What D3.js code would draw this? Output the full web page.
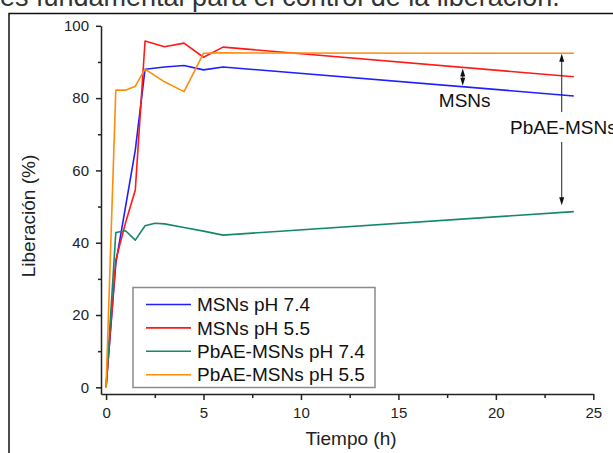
<!DOCTYPE html>
<html>
<head>
<meta charset="utf-8">
<script src="https://cdn.jsdelivr.net/npm/d3@7"></script>
<style>
  body { margin: 0; background: #fff; }
  svg { display: block; font-family: "Liberation Sans", Arial, sans-serif; }
</style>
</head>
<body>
<div id="chartDiv"></div>
<script>
// data
const timeMSN = [0, 0.5, 1, 1.5, 2, 3, 4, 5, 6, 24];
const msn74 = [0, 34.3, 50, 65.6, 88.0, 88.6, 89.0, 87.8, 88.6, 80.6];
const msn55 = [0, 35.2, 45.5, 54.6, 95.8, 94.2, 95.2, 91.3, 94.1, 85.9];
const timePbAE74 = [0, 0.5, 1, 1.5, 2, 2.5, 3, 4, 5, 6, 24];
const pbae74 = [0, 42.8, 43.3, 40.7, 44.7, 45.4, 45.2, 44.2, 43.2, 42.1, 48.6];
const timePbAE55 = [0, 0.5, 1, 1.5, 2, 3, 4, 5, 6, 24];
const pbae55 = [0, 82.2, 82.2, 83.3, 88.0, 84.5, 81.8, 92.4, 92.5, 92.4];

const seriesNames = ["MSNs pH 7.4", "MSNs pH 5.5", "PbAE-MSNs pH 7.4", "PbAE-MSNs pH 5.5"];
const seriesColors = ["#1f1fff", "#ff1a1a", "#15886c", "#ff8c0a"];
const xTicks = [0, 2.5, 5, 7.5, 10, 12.5, 15, 17.5, 20, 22.5, 25];
const yTicks = [0, 10, 20, 30, 40, 50, 60, 70, 80, 90, 100];

const W = 613, H = 453;
const svg = d3.select('#chartDiv')
	.append('svg')
	.attr('width', W)
	.attr('height', H);

// text above the figure (cut off by the crop)
svg.append('text')
	.attr('x', 0).attr('y', 6)
	.attr('font-size', 27)
	.attr('fill', '#333')
	.text('es fundamental para el control de la liberación.');

// page frame
svg.append('path')
	.attr('d', `M9,${H} V13.5 H${W}`)
	.attr('fill', 'none')
	.attr('stroke', '#111')
	.attr('stroke-width', 1.5);

//scales
const x = d3.scaleLinear().domain([-0.26, 25]).range([101, 593.3]);
const y = d3.scaleLinear().domain([-1.85, 100]).range([394, 25.8]);

const xAxis = d3.axisBottom(x).tickValues(xTicks).tickSize(6).tickSizeOuter(0).tickPadding(7)
	.tickFormat(d => d % 5 === 0 ? d : '');
const yAxis = d3.axisLeft(y).tickValues(yTicks).tickSize(5).tickSizeOuter(0).tickPadding(7)
	.tickFormat(d => d % 20 === 0 ? d : '');

const xAxisGroup = svg.append('g').attr('transform', 'translate(0,394)').call(xAxis);
const yAxisGroup = svg.append('g').attr('transform', 'translate(101,0)').call(yAxis);

[xAxisGroup, yAxisGroup].forEach(g => {
	g.select('.domain').attr('stroke', '#222').attr('stroke-width', 1.5);
	g.selectAll('.tick line').attr('stroke', '#222').attr('stroke-width', 1.5);
	g.selectAll('text').attr('font-size', 15).attr('fill', '#222')
		.attr('font-family', '"Liberation Sans", Arial, sans-serif');
});
xAxisGroup.selectAll('.tick line').filter(d => d % 5 !== 0).attr('y2', 4);
yAxisGroup.selectAll('.tick line').filter(d => d % 20 !== 0).attr('x2', -3);

// axis titles
svg.append('text')
	.attr('x', 351).attr('y', 445)
	.attr('text-anchor', 'middle')
	.attr('font-size', 19).attr('fill', '#222')
	.text('Tiempo (h)');
svg.append('text')
	.attr('transform', 'translate(35,216) rotate(-90)')
	.attr('text-anchor', 'middle')
	.attr('font-size', 19).attr('fill', '#222')
	.text('Liberación (%)');

// lines
const series = [
	{t: timeMSN, v: msn74},
	{t: timeMSN, v: msn55},
	{t: timePbAE74, v: pbae74},
	{t: timePbAE55, v: pbae55}
];
const line = d3.line().x(d => x(d[0])).y(d => y(d[1]));
series.forEach((s, i) => {
	svg.append('path')
		.datum(s.t.map((t, j) => [t, s.v[j]]))
		.attr('d', line)
		.attr('fill', 'none')
		.attr('stroke', seriesColors[i])
		.attr('stroke-width', 1.6)
		.attr('stroke-linejoin', 'round');
});

// annotation arrows
function valueAt(s, t) {
	const i = d3.bisectRight(s.t, t);
	const t0 = s.t[i - 1], t1 = s.t[i];
	return s.v[i - 1] + (s.v[i] - s.v[i - 1]) * (t - t0) / (t1 - t0);
}
function arrowHead(px, py, dir) {
	svg.append('path')
		.attr('d', `M${px},${py} L${px - 2.5},${py - dir * 8} L${px + 2.5},${py - dir * 8} Z`)
		.attr('fill', '#111');
}
function vline(px, y1, y2) {
	svg.append('line')
		.attr('x1', px).attr('x2', px).attr('y1', y1).attr('y2', y2)
		.attr('stroke', '#222').attr('stroke-width', 1);
}

const tA = 18.3;
const ax = x(tA), ayTop = y(valueAt(series[1], tA)) + 1, ayBot = y(valueAt(series[0], tA)) - 1;
vline(ax, ayTop + 4, ayBot - 4);
arrowHead(ax, ayTop, -1);
arrowHead(ax, ayBot, 1);
svg.append('text')
	.attr('x', ax + 2).attr('y', 107)
	.attr('text-anchor', 'middle')
	.attr('font-size', 19).attr('fill', '#111')
	.text('MSNs');

const tB = 23.38;
const bx = x(tB), byTop = y(valueAt(series[3], tB)) + 0.5, byBot = y(valueAt(series[2], tB) + 2);
vline(bx, byTop + 4, 112);
vline(bx, 142, byBot - 4);
arrowHead(bx, byTop, -1);
arrowHead(bx, byBot, 1);
svg.append('text')
	.attr('x', 510).attr('y', 134)
	.attr('font-size', 19).attr('fill', '#111')
	.text('PbAE-MSNs');

// legend
const legend = svg.append('g');
legend.append('rect')
	.attr('x', 133).attr('y', 287.5)
	.attr('width', 242).attr('height', 100)
	.attr('fill', '#fff')
	.attr('stroke', '#8c8c8c')
	.attr('stroke-width', 1.5);
seriesNames.forEach((name, i) => {
	const ly = 304.5 + i * 23.4;
	legend.append('line')
		.attr('x1', 146).attr('x2', 191).attr('y1', ly).attr('y2', ly)
		.attr('stroke', seriesColors[i]).attr('stroke-width', 1.6);
	legend.append('text')
		.attr('x', 197).attr('y', ly + 6.7)
		.attr('font-size', 19).attr('fill', '#111')
		.text(name);
});
</script>
</body>
</html>
